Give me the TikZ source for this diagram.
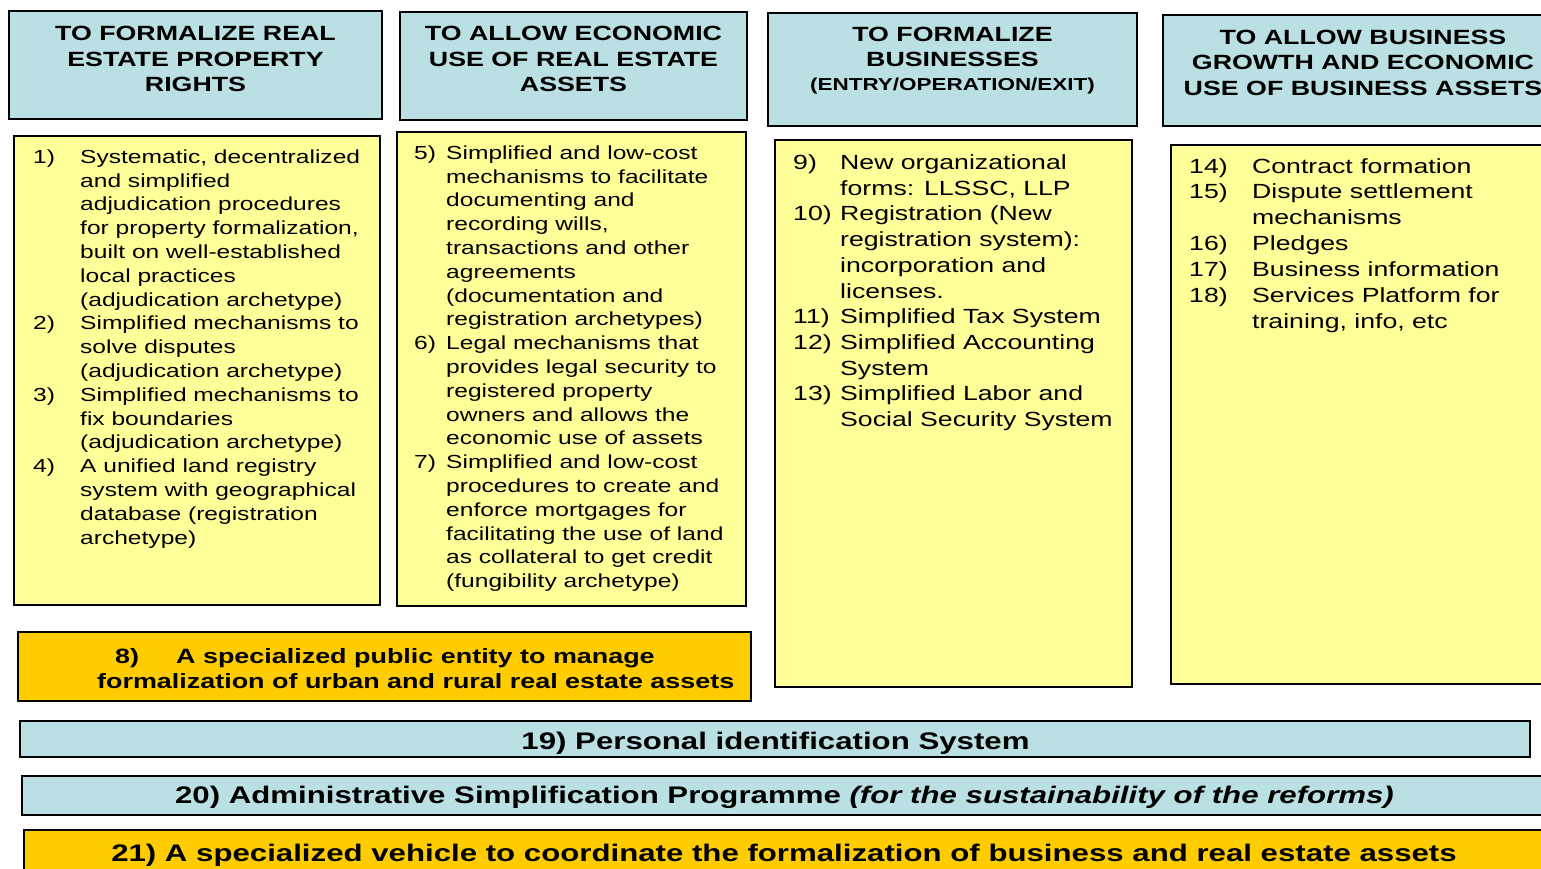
\documentclass[tikz,border=0pt]{standalone}
\usepackage{fontspec}
\setmainfont[FakeStretch=1.3]{Liberation Sans}
\usetikzlibrary{shadows}
\definecolor{hdrblue}{HTML}{BBE0E3}
\definecolor{lyellow}{HTML}{FFFF99}
\definecolor{gold}{HTML}{FFCC00}
\newcommand\hdrtab[1]{\begin{tabular}[t]{@{}c@{}}#1\end{tabular}}
\newcommand\lsttab[2]{\begin{tabular}[t]{@{}p{#1}@{}l@{}}#2\end{tabular}}
\tikzset{
  bx/.style={draw=black, line width=1.4pt, anchor=north west, inner sep=0pt, outer sep=0pt,
    drop shadow={shadow xshift=1.3pt, shadow yshift=-1.3pt, fill=black!45, opacity=1}},
  hdr/.style={anchor=base, inner sep=0pt, font=\fontsize{20.6}{25.5}\selectfont\bfseries},
  lstsmall/.style={anchor=base west, inner sep=0pt, font=\fontsize{18.9}{23.8}\selectfont},
  lstbig/.style={anchor=base west, inner sep=0pt, font=\fontsize{20.5}{25.7}\selectfont},
  bartext/.style={anchor=base, inner sep=0pt, font=\fontsize{24}{28}\selectfont\bfseries},
}
\begin{document}
\begin{tikzpicture}[x=1pt,y=-1pt]
\useasboundingbox (0,0) rectangle (1541,868);
\clip (0,0) rectangle (1541,868);
\fill[white] (0,0) rectangle (1541,868);

% header boxes
\node[bx, fill=hdrblue, minimum width=373pt, minimum height=108pt] (h1) at (9,11) {};
\node[bx, fill=hdrblue, minimum width=347pt, minimum height=108pt] (h2) at (400,12) {};
\node[bx, fill=hdrblue, minimum width=369pt, minimum height=113pt] (h3) at (768,13) {};
\node[bx, fill=hdrblue, minimum width=400pt, minimum height=111pt] (h4) at (1163,15) {};

% content boxes
\node[bx, fill=lyellow, minimum width=366pt, minimum height=469pt] (c1) at (14,136) {};
\node[bx, fill=lyellow, minimum width=349pt, minimum height=474pt] (c2) at (397,132) {};
\node[bx, fill=lyellow, minimum width=357pt, minimum height=547pt] (c3) at (775,140) {};
\node[bx, fill=lyellow, minimum width=400pt, minimum height=539pt] (c4) at (1171,145) {};

% bottom boxes
\node[bx, fill=gold, minimum width=733pt, minimum height=69pt] (b8) at (18,632) {};
\node[bx, fill=hdrblue, minimum width=1510pt, minimum height=36pt] (b19) at (20,721) {};
\node[bx, fill=hdrblue, minimum width=1530pt, minimum height=39pt] (b20) at (22,776) {};
\node[bx, fill=gold, minimum width=1525pt, minimum height=60pt] (b21) at (24,830) {};

% header texts
\node[hdr] (h1t) at (195.5,40.5) {\hdrtab{TO FORMALIZE REAL\\ESTATE PROPERTY\\RIGHTS}};
\node[hdr] (h2t) at (573.5,40.5) {\hdrtab{TO ALLOW ECONOMIC\\USE OF REAL ESTATE\\ASSETS}};
\node[hdr] (h3t) at (952.5,41) {\hdrtab{TO FORMALIZE\\BUSINESSES\\[-1.5pt]{\fontsize{17.3}{20}\selectfont (ENTRY/OPERATION/EXIT)}}};
\node[hdr] (h4t) at (1363,44) {\hdrtab{TO ALLOW BUSINESS\\GROWTH AND ECONOMIC\\USE OF BUSINESS ASSETS}};

% list texts
\node[lstsmall] (c1t) at (33,163.3) {\lsttab{47pt}{%
1) & Systematic, decentralized\\
   & and simplified\\
   & adjudication procedures\\
   & for property formalization,\\
   & built on well-established\\
   & local practices\\
   & (adjudication archetype)\\
2) & Simplified mechanisms to\\
   & solve disputes\\
   & (adjudication archetype)\\
3) & Simplified mechanisms to\\
   & fix boundaries\\
   & (adjudication archetype)\\
4) & A unified land registry\\
   & system with geographical\\
   & database (registration\\
   & archetype)}};

\node[lstsmall] (c2t) at (414,159.3) {\lsttab{32pt}{%
5) & Simplified and low-cost\\
   & mechanisms to facilitate\\
   & documenting and\\
   & recording wills,\\
   & transactions and other\\
   & agreements\\
   & (documentation and\\
   & registration archetypes)\\
6) & Legal mechanisms that\\
   & provides legal security to\\
   & registered property\\
   & owners and allows the\\
   & economic use of assets\\
7) & Simplified and low-cost\\
   & procedures to create and\\
   & enforce mortgages for\\
   & facilitating the use of land\\
   & as collateral to get credit\\
   & (fungibility archetype)}};

\node[lstbig] (c3t) at (793,169.5) {\lsttab{47pt}{%
9)  & New organizational\\
    & forms: LLSSC, LLP\\
10) & Registration (New\\
    & registration system):\\
    & incorporation and\\
    & licenses.\\
11) & Simplified Tax System\\
12) & Simplified Accounting\\
    & System\\
13) & Simplified Labor and\\
    & Social Security System}};

\node[lstbig, font=\fontsize{20.5}{25.9}\selectfont] (c4t) at (1189,173) {\lsttab{63pt}{%
14) & Contract formation\\
15) & Dispute settlement\\
    & mechanisms\\
16) & Pledges\\
17) & Business information\\
18) & Services Platform for\\
    & training, info, etc}};

% box 8 text
\node[anchor=base west, inner sep=0pt, font=\fontsize{20.7}{25}\selectfont\bfseries] (b8t) at (97,663)
  {\begin{tabular}[t]{@{}l@{}}\hspace*{18pt}\makebox[61pt][l]{8)}A specialized public entity to manage\\
   formalization of urban and rural real estate assets\end{tabular}};

% bar texts
\node[bartext] (b19t) at (775.5,749) {19) Personal identification System};
\node[bartext] (b20t) at (784.5,803.5) {20) Administrative Simplification Programme \textit{(for the sustainability of the reforms)}};
\node[bartext] (b21t) at (784,861) {21) A specialized vehicle to coordinate the formalization of business and real estate assets};
\end{tikzpicture}
\end{document}
